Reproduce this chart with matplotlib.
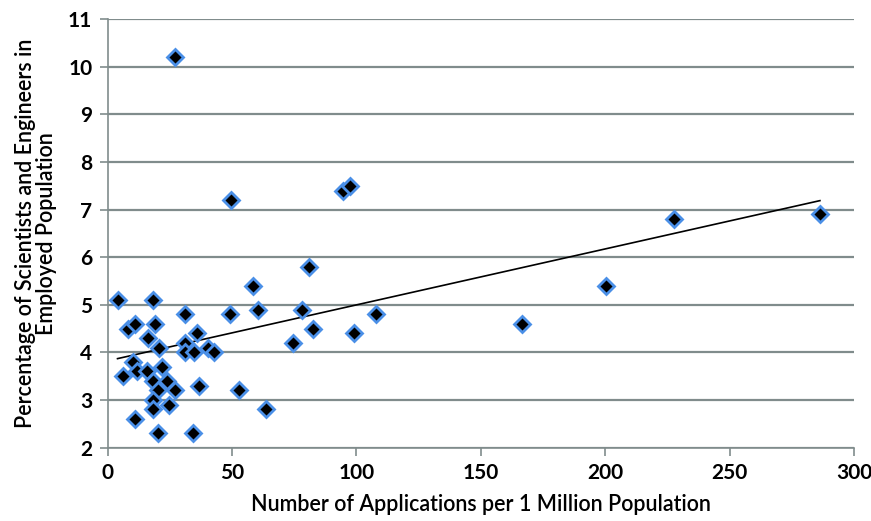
import numpy as np
import matplotlib
matplotlib.use('Agg')
import matplotlib.pyplot as plt

# applications per 1 million population vs. share of scientists/engineers
apps_per_million = [4.0, 27.0, 6.4, 8.4, 11.1, 10.4, 11.1, 11.8, 15.8, 16.4,
                    18.2, 19.1, 20.8, 21.8, 18.4, 23.8, 20.4, 27.1, 18.4, 24.5,
                    18.4, 20.2, 31.2, 31.2, 31.2, 34.8, 36.1, 40.5, 42.9, 36.9,
                    34.3, 49.2, 49.6, 52.9, 58.5, 60.6, 63.7, 74.6, 78.1, 80.9,
                    82.6, 94.6, 97.4, 99.1, 107.9, 166.4, 200.2, 227.8, 286.3]
pct_sci_eng = [5.1, 10.2, 3.5, 4.5, 4.6, 3.8, 2.6, 3.6, 3.6, 4.3,
               5.1, 4.6, 4.1, 3.7, 3.4, 3.4, 3.2, 3.2, 3.0, 2.9,
               2.8, 2.3, 4.8, 4.2, 4.0, 4.0, 4.4, 4.1, 4.0, 3.3,
               2.3, 4.8, 7.2, 3.2, 5.4, 4.9, 2.8, 4.2, 4.9, 5.8,
               4.5, 7.4, 7.5, 4.4, 4.8, 4.6, 5.4, 6.8, 6.9]

x_ticks = [0, 50, 100, 150, 200, 250, 300]
y_ticks = [2, 3, 4, 5, 6, 7, 8, 9, 10, 11]

GRID = '#808c8c'
plt.rcParams['font.family'] = ['Lato', 'DejaVu Sans']

fig = plt.figure(figsize=(8.71, 5.21), dpi=100)
ax = fig.add_axes([0.1235, 0.141, 0.857, 0.822])

x = np.array(apps_per_million)
y = np.array(pct_sci_eng)

# linear trend line over the data range
k, b = np.polyfit(x, y, 1)
xs = np.array([x.min(), x.max()])
ax.plot(xs, k * xs + b, color='black', lw=1.2, zorder=3)

ax.plot(x, y, linestyle='none', marker='D', markersize=8.3,
        markerfacecolor='black', markeredgecolor='#4a8fe7',
        markeredgewidth=2.0, zorder=4)

ax.set_xlim(0, 300)
ax.set_ylim(2, 11)
ax.set_xticks(x_ticks)
ax.set_yticks(y_ticks)
ax.yaxis.grid(True, color=GRID, lw=1.6)
ax.set_axisbelow(True)

for s in ['top', 'right']:
    ax.spines[s].set_visible(False)
for s in ['left', 'bottom']:
    ax.spines[s].set_color(GRID)
    ax.spines[s].set_linewidth(1.2)

ax.tick_params(axis='both', direction='out', length=6, width=1.2, color=GRID,
               labelsize=15, pad=5)
for lab in ax.get_xticklabels() + ax.get_yticklabels():
    lab.set_fontweight('bold')

ax.set_xlabel('Number of Applications per 1 Million Population',
              fontsize=15.5, fontweight='semibold', labelpad=8)
ax.set_ylabel('Percentage of Scientists and Engineers in\nEmployed Population',
              fontsize=15.5, fontweight='semibold', labelpad=8, linespacing=1.0)

fig.savefig('out.png', dpi=100)
